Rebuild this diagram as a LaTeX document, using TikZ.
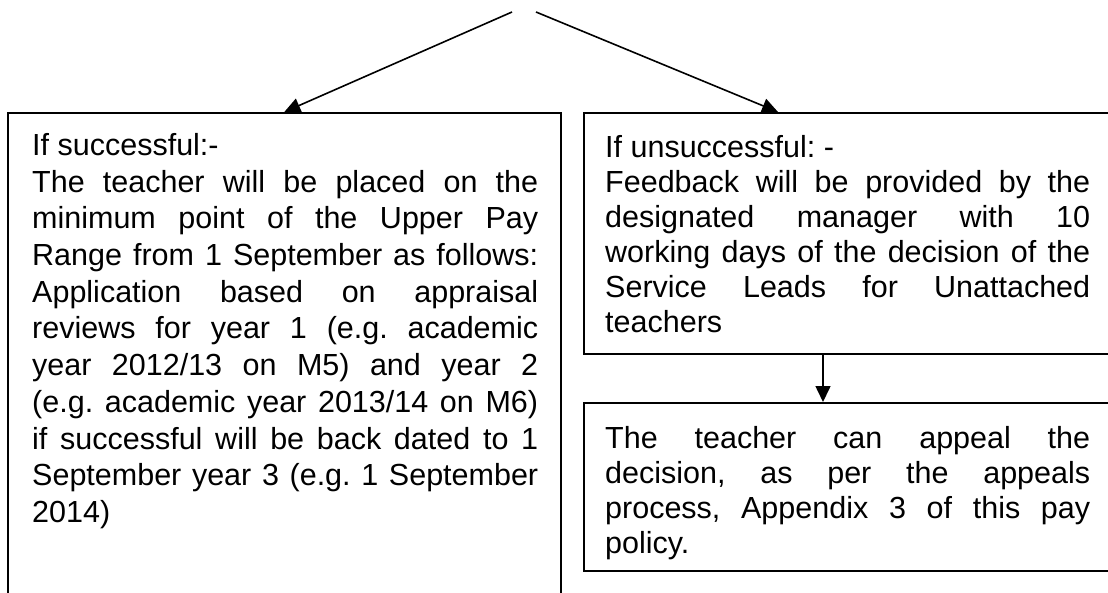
\documentclass[tikz,border=0pt]{standalone}
\usepackage{fontspec}
\setmainfont{Liberation Sans}
\usetikzlibrary{arrows.meta}
\frenchspacing
\tikzset{
  box/.style={draw, line width=1.6pt, anchor=north west, inner sep=0pt},
  txtL/.style={anchor=base west, inner sep=0pt, font=\fontsize{30.5}{36.7}\selectfont\frenchspacing},
  txtR/.style={anchor=base west, inner sep=0pt, font=\fontsize{30.5}{35}\selectfont\frenchspacing},
  arr/.style={line width=1.6pt, -{Triangle[length=16pt,width=15pt]}},
}
\newcommand\jline[2]{\makebox[#1][s]{#2}}
\begin{document}
\begin{tikzpicture}[x=1pt,y=-1pt]
\useasboundingbox (0,0) rectangle (1108,593);
% boxes
\node[box, minimum width=553pt, minimum height=540pt] (L) at (7,112) {};
\node[box, minimum width=560pt, minimum height=241pt] (R1) at (583,112) {};
\node[box, minimum width=560pt, minimum height=168pt] (R2) at (583,402) {};
% texts
\node[txtL] (tL) at (32,155.5) {\parbox[t]{506pt}{%
If successful:-\\
\jline{506pt}{The teacher will be placed on the}\\
\jline{506pt}{minimum point of the Upper Pay}\\
\jline{506pt}{Range from 1 September as follows:}\\
\jline{506pt}{Application based on appraisal}\\
\jline{506pt}{reviews for year 1 (e.g. academic}\\
\jline{506pt}{year 2012/13 on M5) and year 2}\\
\jline{506pt}{(e.g. academic year 2013/14 on M6)}\\
\jline{506pt}{if successful will be back dated to 1}\\
\jline{506pt}{September year 3 (e.g. 1 September}\\
2014)}};
\node[txtR] (tR1) at (605,158) {\parbox[t]{485pt}{%
If unsuccessful: -\\
\jline{485pt}{Feedback will be provided by the}\\
\jline{485pt}{designated manager with 10}\\
\jline{485pt}{working days of the decision of the}\\
\jline{485pt}{Service Leads for Unattached}\\
teachers}};
\node[txtR] (tR2) at (605,448) {\parbox[t]{485pt}{%
\jline{485pt}{The teacher can appeal the}\\
\jline{485pt}{decision, as per the appeals}\\
\jline{485pt}{process, Appendix 3 of this pay}\\
policy.}};
% connectors
\coordinate (aL) at (512,12);
\coordinate (aR) at (536,12);
\coordinate (tipR) at (778,112);
\coordinate (d) at (823,0);
\draw[arr] (aL) -- (L.north);
\draw[arr] (aR) -- (tipR);
\draw[arr] (R1.south -| d) -- (R2.north -| d);
\end{tikzpicture}
\end{document}
